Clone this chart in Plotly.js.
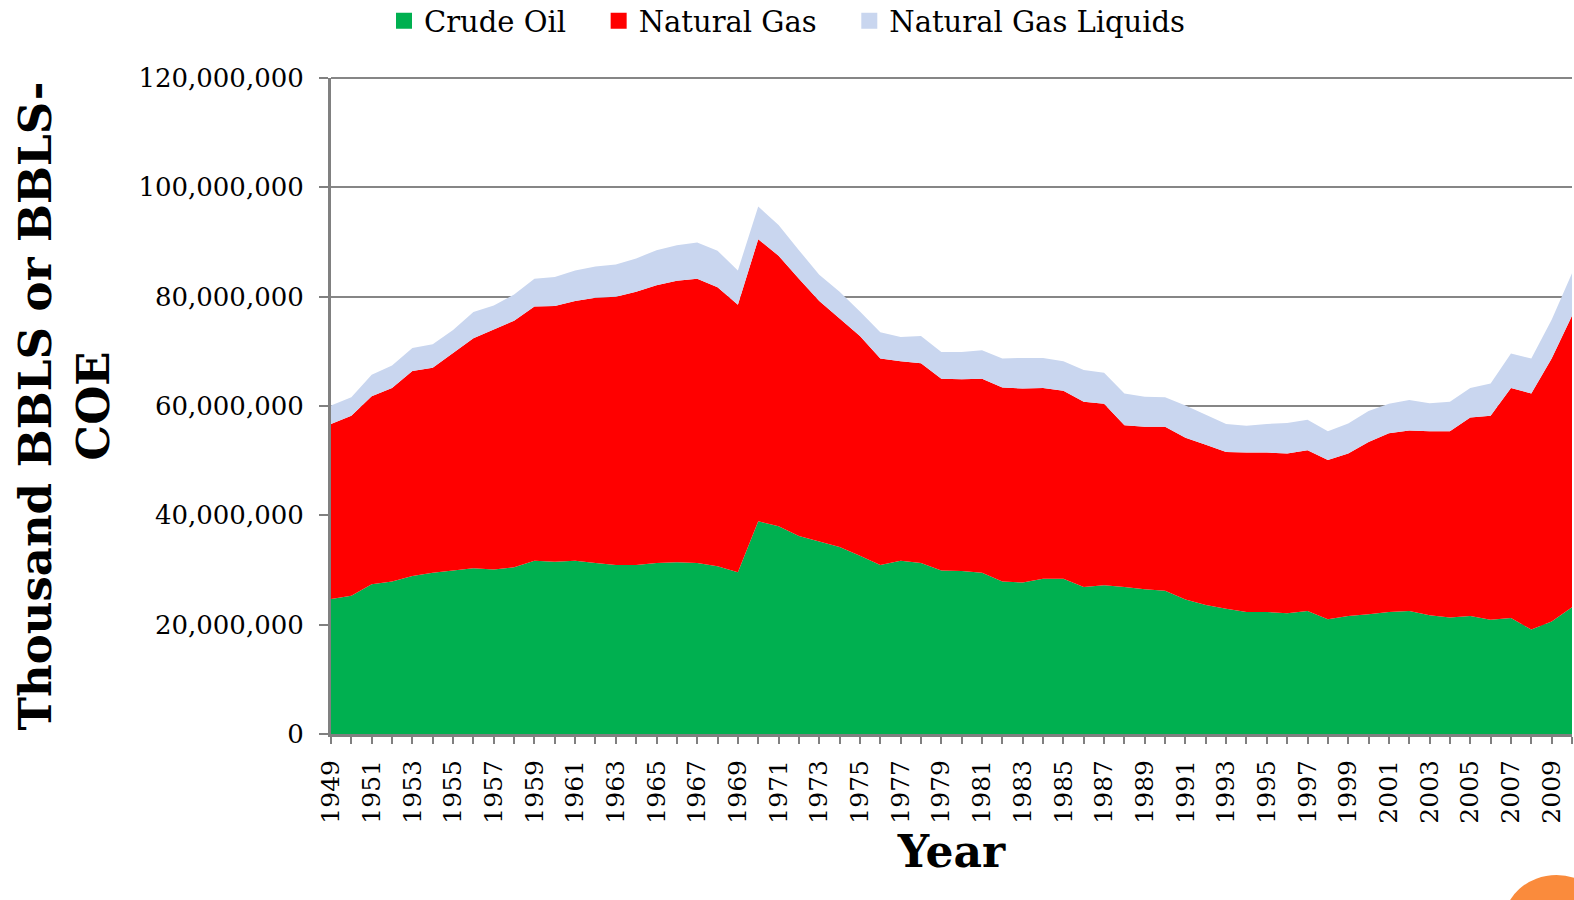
<!DOCTYPE html>
<html>
<head>
<meta charset="utf-8">
<script src="https://cdn.plot.ly/plotly-3.0.1.min.js"></script>
<style>html,body{margin:0;padding:0;background:#fff;}#chart{width:1574px;height:900px;}</style>
</head>
<body>
<div id="chart"></div>
<script>
// Years 1949-2010
const years = [];
for (let y = 1949; y <= 2010; y++) years.push(y);

// Values in thousand BBLS (or BBLS-COE), millions
const crudeOilM = [24.7,25.3,27.4,27.9,28.9,29.5,29.9,30.3,30.1,30.5,
  31.7,31.5,31.7,31.3,30.9,30.9,31.3,31.4,31.3,30.7,
  29.6,38.9,38.0,36.2,35.2,34.2,32.6,30.9,31.7,31.3,
  29.9,29.8,29.5,27.9,27.7,28.4,28.4,26.9,27.2,26.9,
  26.5,26.2,24.6,23.6,22.9,22.3,22.3,22.1,22.5,21.0,
  21.6,21.9,22.3,22.5,21.7,21.3,21.6,20.9,21.2,19.1,
  20.6,23.2];
const naturalGasM = [32.0,32.9,34.4,35.4,37.5,37.5,39.8,42.1,43.9,45.1,
  46.5,46.8,47.5,48.5,49.1,50.0,50.8,51.5,52.0,51.0,
  48.9,51.6,49.5,47.1,44.0,41.8,40.2,37.8,36.5,36.5,
  35.1,35.1,35.5,35.5,35.5,34.9,34.4,33.9,33.2,29.6,
  29.7,30.0,29.6,29.3,28.7,29.2,29.2,29.2,29.4,29.1,
  29.7,31.5,32.7,33.0,33.7,34.1,36.3,37.3,42.1,43.2,
  48.1,53.3];
const ngLiquidsM = [3.4,3.4,3.9,4.1,4.2,4.3,4.2,4.8,4.4,4.8,
  5.1,5.3,5.6,5.7,5.9,6.1,6.4,6.5,6.6,6.7,
  6.3,6.0,5.6,5.2,4.8,4.9,4.5,4.8,4.4,5.0,
  4.9,5.0,5.2,5.3,5.6,5.5,5.4,5.8,5.7,5.8,
  5.5,5.4,5.9,5.5,5.1,4.9,5.2,5.6,5.6,5.3,
  5.5,5.7,5.4,5.6,5.1,5.4,5.4,5.9,6.3,6.4,
  7.1,7.8];

const seriesNames = ["Crude Oil", "Natural Gas", "Natural Gas Liquids"];
const seriesColors = ["#00B050", "#FF0000", "#C9D6EF"];
const yTicks = [0, 20000000, 40000000, 60000000, 80000000, 100000000, 120000000];

const toUnits = a => a.map(v => Math.round(v * 1e6));
const FONT = "DejaVu Serif, serif";
const seriesData = [crudeOilM, naturalGasM, ngLiquidsM];

const traces = [];
seriesData.forEach((d, i) => {
  traces.push({x: years, y: toUnits(d), name: seriesNames[i], type: "scatter", mode: "none",
    stackgroup: "one", fillcolor: seriesColors[i], line: {width: 0}, showlegend: false});
});
// legend entries with square swatches
const pad = ["\u00a0\u00a0\u00a0", "\u00a0\u00a0\u00a0", ""];
seriesNames.forEach((n, i) => {
  traces.push({x: [null], y: [null], name: n + pad[i], type: "scatter", mode: "markers",
    marker: {symbol: "square", size: 18, color: seriesColors[i]}, showlegend: true});
});

const layout = {
  width: 1574, height: 900,
  margin: {l: 331, r: 2, t: 78, b: 166, autoexpand: false},
  paper_bgcolor: "#fff", plot_bgcolor: "#fff",
  font: {family: FONT, size: 24, color: "#000"},
  hovermode: false,
  showlegend: true,
  legend: {orientation: "h", xref: "container", yref: "container",
    x: 0.5, xanchor: "center", y: 0.9767, yanchor: "middle",
    font: {family: FONT, size: 29, color: "#000"}, traceorder: "normal"},
  xaxis: {
    range: [1949, 2010], tick0: 1949, dtick: 2, tickangle: -90,
    ticks: "outside", ticklen: 7, tickwidth: 2, tickcolor: "#808080",
    minor: {dtick: 1, ticks: "outside", ticklen: 7, tickwidth: 2, tickcolor: "#808080"},
    showline: true, linecolor: "#808080", linewidth: 3,
    showgrid: false, zeroline: false, ticklabelstandoff: 6,
    tickfont: {family: FONT, size: 25, color: "#000"},
    title: {text: "<b>Year</b>", font: {family: FONT, size: 44, color: "#000"}, standoff: 14}
  },
  yaxis: {
    range: [0, 120000000], tickvals: yTicks, tickformat: ",d",
    ticks: "outside", ticklen: 9, tickwidth: 2, tickcolor: "#808080",
    showline: true, linecolor: "#808080", linewidth: 3,
    showgrid: true, gridcolor: "#868686", gridwidth: 2, zeroline: false, ticklabelstandoff: 10,
    tickfont: {family: FONT, size: 26, color: "#000"},
    title: {text: "<b>Thousand BBLS or BBLS-<br>COE</b>", font: {family: FONT, size: 45, color: "#000"}, standoff: 15}
  },
  shapes: [
    {type: "line", xref: "paper", yref: "paper", x0: 0, x1: 1, y0: 1, y1: 1,
     line: {color: "#868686", width: 2}},
    {type: "circle", xref: "paper", yref: "paper", x0: 0.945, x1: 1.03, y0: -0.36, y1: -0.215,
     fillcolor: "#FA8B3C", line: {width: 0}, layer: "above"}
  ]
};

Plotly.newPlot("chart", traces, layout, {staticPlot: true, displayModeBar: false});
</script>
</body>
</html>
